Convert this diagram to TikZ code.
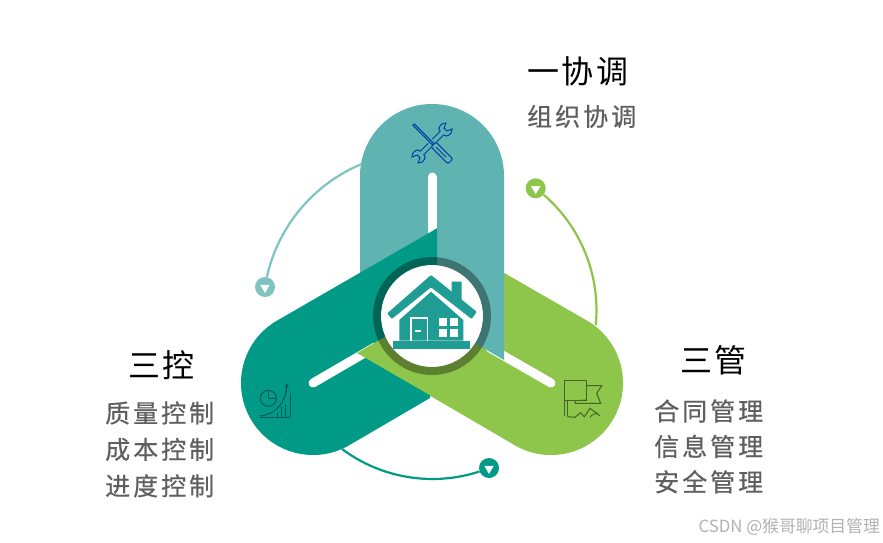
\documentclass[tikz,border=0pt]{standalone}
\usepackage{fontspec}
\newfontfamily\cjk[LetterSpace=8]{Noto Sans CJK SC}
\newfontfamily\cjkitem[LetterSpace=12, FakeBold=0.5]{Noto Sans CJK SC}
\newfontfamily\cjkplain{Noto Sans CJK SC}
\usetikzlibrary{shapes.geometric, arrows.meta, positioning, calc}
\definecolor{bandteal}{HTML}{5FB4B2}
\definecolor{banddark}{HTML}{009A86}
\definecolor{bandgreen}{HTML}{8DC64A}
\definecolor{arcteal}{HTML}{7EC4BF}
\definecolor{housecol}{HTML}{1F9C94}
\definecolor{subgray}{HTML}{5F5F5F}
\begin{document}
\begin{tikzpicture}[
    x=1pt, y=1pt,
    slot/.style={line width=9pt, white, line cap=round},
    title/.style={font=\cjk\fontsize{32}{32}\selectfont, inner sep=0pt, minimum height=34pt, text=black},
    item/.style={font=\cjkitem\fontsize{25}{25}\selectfont, inner sep=0pt, minimum height=26pt, text=subgray},
    dot/.style={circle, minimum size=20pt, inner sep=0pt},
    tri/.style={regular polygon, regular polygon sides=3, shape border rotate=180, fill=white, inner sep=0pt, minimum size=11pt},
    link/.style={line width=2.2pt, bend right=27.5, looseness=0.9},
    icon/.style={line width=1pt}
]
\useasboundingbox (0,0) rectangle (883,542);
\fill[white] (0,0) rectangle (883,542);

% Bands
\fill[bandgreen] (515,96.65) arc[start angle=-120, end angle=60, radius=72] -- (440,306) -- (440,235) -- (357,189) -- cycle;
\draw[slot] (551,159) -- (490,194);
\fill[bandteal] (360,366) arc[start angle=180, end angle=0, radius=72] -- (504,182) -- (432,224) -- (360,252) -- cycle;
\draw[slot] (432,365) -- (432,300);
\fill[banddark] (349,96.65) arc[start angle=-60, end angle=-240, radius=72] -- (437,313.7) -- (437,220) -- (430,144) -- cycle;
\draw[slot] (313,159) -- (375,195);
\fill[bandgreen] (357,189) -- (440,237) -- (440,141) -- cycle;

% Hub
\node[circle, minimum size=102pt, inner sep=0pt, fill=white] (hub) at (432,226) {};
\draw[black, opacity=0.35, line width=8pt] (hub) circle[radius=55];

% House
\fill[housecol, rounded corners=1pt] (431,267) -- (476.7,230.3) -- (471.7,223) -- (431,254.7) -- (391.7,223) -- (387.3,228.7) -- cycle;
\fill[housecol] (451.7,260.3) -- (461.7,260.3) -- (461.7,242) -- (451.7,250.3) -- cycle;
\fill[housecol] (431,250.3) -- (463.3,222) -- (463.3,201.3) -- (399.3,201.3) -- (399.3,222) -- cycle;
\fill[housecol] (392.7,201.3) rectangle (470,193);
\draw[white, line width=1.4pt] (411,201.3) -- (411,224) -- (427.5,224) -- (427.5,201.3);
\draw[white, line width=1.2pt] (415,211) -- (420.7,211);
\fill[white] (439.3,223.7) rectangle (447.3,216);
\fill[white] (450,223.7) rectangle (458,216);
\fill[white] (439.3,212.7) rectangle (447.3,205.3);
\fill[white] (450,212.7) rectangle (458,205.3);

% Tools
\begin{scope}[shift={(432,399)}, rotate=-45, icon, draw=blue!45!teal!90!black]
\draw (-26,-1) rectangle (2,1);
\draw[rounded corners=2pt] (2,-3.5) rectangle (26,3.5);
\draw (6,0) -- (20,0);
\end{scope}
\foreach \r in {45,225} {
\begin{scope}[shift={(432,399)}, rotate=\r, icon, draw=blue!45!teal!90!black]
\draw (3,2.5) -- (14,2.5) -- (14.8,5) arc[start angle=130, end angle=40, radius=6.5] -- (19,2) -- (19,-2) -- (24,-4.2) arc[start angle=-40, end angle=-130, radius=6.5] -- (14,-2.5) -- (3,-2.5);
\end{scope}
}

% Chart
\begin{scope}[icon, draw=teal!70!black]
\draw (268.3,143.7) circle[radius=8];
\draw (268.3,151.7) -- (268.3,143.7) -- (276.3,143.7);
\draw (260,126) .. controls (277,128) and (286,140) .. (286.7,157);
\draw[-{Stealth[open, length=5pt]}] (286.7,150) -- (286.7,159);
\draw (260,125) -- (290,125);
\draw (277,125) -- (277,130);
\draw (281,125) -- (281,135);
\draw (285,125) -- (285,138);
\draw (290,125) -- (290,149);
\end{scope}

% Flags
\begin{scope}[icon, draw=black!45!bandgreen!90!black]
\draw (564,161.3) rectangle (586.7,142);
\draw (564,142) -- (564,126) (567,142) -- (567,126);
\draw (586.7,156.3) -- (601.7,156.3) -- (596.7,148.7) -- (600.7,138.7) -- (575,138.7) -- (575,141.3) -- (586.7,142);
\draw (567.3,125.3) -- (575,124.7) -- (580.7,129.3) -- (584.3,125.3) -- (590,133.7) -- (600,126);
\draw (594,127) -- (597,130) (590,124.7) -- (593,128);
\end{scope}

% Dots
\coordinate (tealstart) at (361.7,378);
\coordinate (greenstart) at (595.7,217);
\coordinate (darkstart) at (342,93);
\node[dot, fill=arcteal] (tealdot) at (265,255) {};
\node[dot, fill=bandgreen] (greendot) at (535.7,353.7) {};
\node[dot, fill=banddark] (darkdot) at (489,74) {};
\node[tri, yshift=-0.5pt] (tealtri) at (tealdot) {};
\node[tri, yshift=-0.5pt] (greentri) at (greendot) {};
\node[tri, yshift=-0.5pt] (darktri) at (darkdot) {};

% Arcs
\draw[link, arcteal] (tealstart) to (tealdot);
\draw[link, bandgreen] (greenstart) to (greendot);
\draw[link, banddark] (darkstart) to (darkdot);

% Labels
\node[title, anchor=west] (top) at (527,471) {一协调};
\node[item, below=15pt of top.south west, anchor=north west] (topa) {组织协调};

\node[title, anchor=west] (left) at (128,177) {三控};
\node[item, anchor=west] (lefta) at (105,129) {质量控制};
\node[item, below=10pt of lefta] (leftb) {成本控制};
\node[item, below=10pt of leftb] (leftc) {进度控制};

\node[title, anchor=west] (right) at (680,182) {三管};
\node[item, anchor=west] (righta) at (654,131) {合同管理};
\node[item, below=9pt of righta] (rightb) {信息管理};
\node[item, below=9pt of rightb] (rightc) {安全管理};

\node[font=\cjkplain\fontsize{16.8}{16.8}\selectfont, text=black!30, anchor=east, inner sep=0pt] (mark) at (880,15) {CSDN @猴哥聊项目管理};
\end{tikzpicture}
\end{document}
